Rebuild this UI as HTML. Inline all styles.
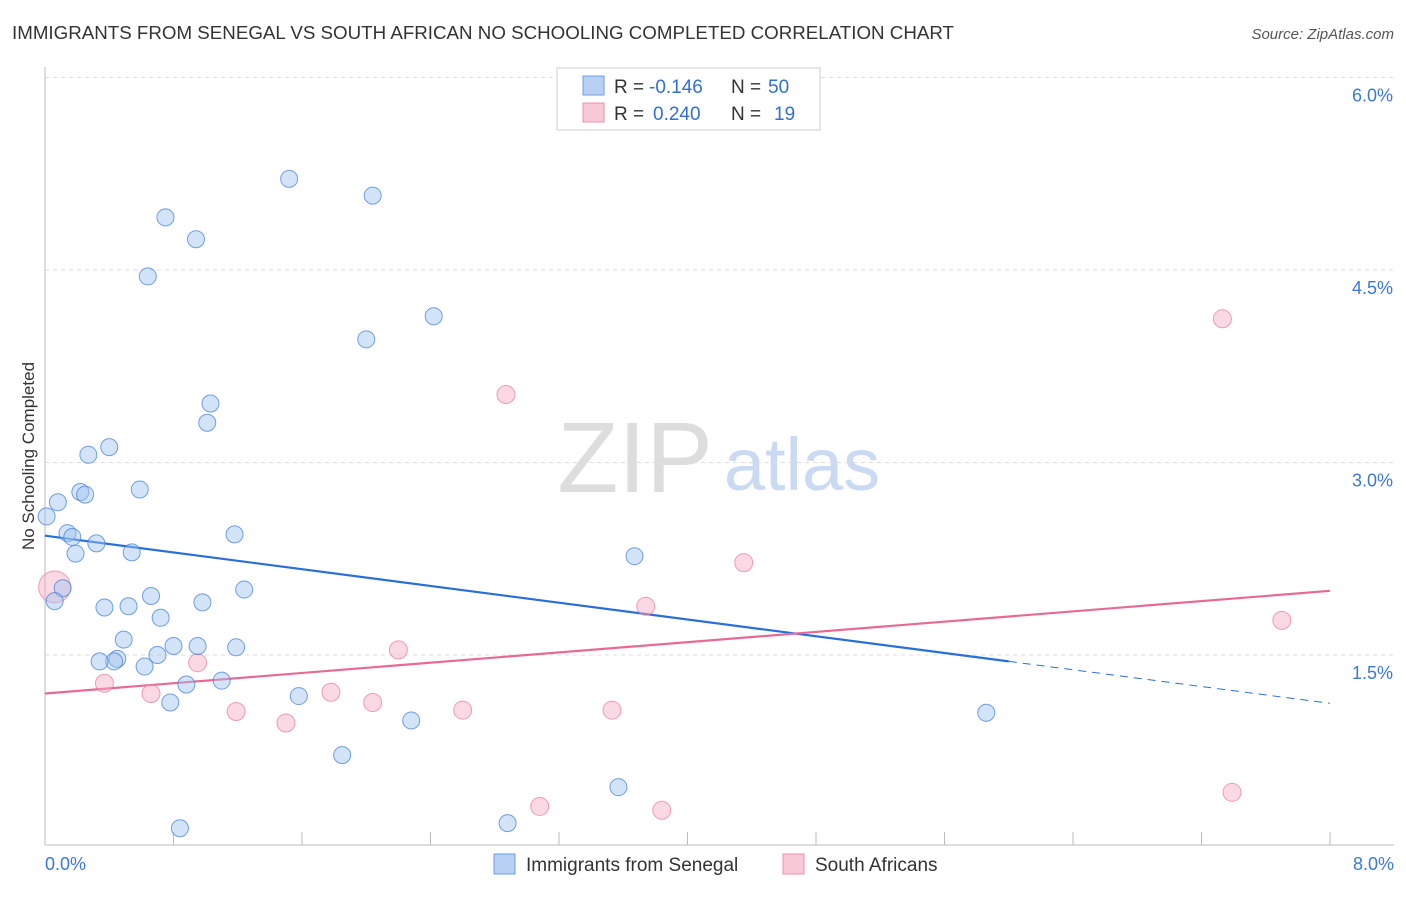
<!DOCTYPE html>
<html><head><meta charset="utf-8"><style>
body{margin:0;background:#fff;font-family:"Liberation Sans",sans-serif;}
svg text{font-family:"Liberation Sans",sans-serif;}
</style></head><body>
<svg id="chart" width="1406" height="892" xmlns="http://www.w3.org/2000/svg">
<text x="12" y="39" font-size="18" fill="#333" textLength="942" lengthAdjust="spacingAndGlyphs">IMMIGRANTS FROM SENEGAL VS SOUTH AFRICAN NO SCHOOLING COMPLETED CORRELATION CHART</text>
<text x="1394" y="39" font-size="15" fill="#555" text-anchor="end" font-style="italic">Source: ZipAtlas.com</text>
<text transform="translate(34,456) rotate(-90)" font-size="17" fill="#333" text-anchor="middle">No Schooling Completed</text>
<g>
<text x="635" y="492" font-size="100" fill="#ddd" text-anchor="middle" font-family="Liberation Serif,serif">ZIP</text>
<text x="802" y="490" font-size="74" fill="#c9daf2" text-anchor="middle">atlas</text>
</g>
<g id="grid"></g><g id="axes"></g><g id="trend"></g><g id="pts"></g>
<g>
<rect x="557" y="68" width="263" height="62" fill="#fff" stroke="#ccc"/>
<rect x="583" y="76" width="21" height="19" fill="#b8d0f4" stroke="#6d9ee8"/>
<rect x="583" y="103" width="21" height="19" fill="#f9c8d6" stroke="#ee90ac"/>
<text x="614" y="93" font-size="19" fill="#333">R =</text>
<text x="649" y="93" font-size="19" fill="#2f6fd6">-0.146</text>
<text x="731" y="93" font-size="19" fill="#333">N =</text>
<text x="768" y="93" font-size="19" fill="#2f6fd6">50</text>
<text x="614" y="120" font-size="19" fill="#333">R =</text>
<text x="653" y="120" font-size="19" fill="#2f6fd6">0.240</text>
<text x="731" y="120" font-size="19" fill="#333">N =</text>
<text x="774" y="120" font-size="19" fill="#2f6fd6">19</text>
</g>
<g>
<rect x="494" y="854" width="21" height="20" fill="#b8d0f4" stroke="#6d9ee8"/>
<text x="526" y="871" font-size="19" fill="#333">Immigrants from Senegal</text>
<rect x="783" y="854" width="21" height="20" fill="#f9c8d6" stroke="#ee90ac"/>
<text x="815" y="871" font-size="19" fill="#333">South Africans</text>
</g>
</svg>
<script>
const yTicks=[1.5,3.0,4.5,6.0];
const xTickVals=[0,0.8,1.6,2.4,3.2,4.0,4.8,5.6,6.4,7.2,8.0];
const xLabels=["0.0%","8.0%"];
const senegalX=[1.52,2.04,0.75,0.94,0.64,2.42,2.00,1.03,1.01,0.40,0.27,0.59,0.22,0.25,0.08,0.01,0.14,0.17,1.18,0.32,0.19,0.54,3.67,0.11,0.06,1.24,0.66,0.98,0.37,0.52,0.72,0.49,0.80,0.95,1.19,0.70,0.45,0.43,0.34,0.62,1.10,0.88,1.58,0.78,2.28,5.86,1.85,3.57,2.88,0.84];
const senegalY=[5.21,5.08,4.91,4.74,4.45,4.14,3.96,3.46,3.31,3.12,3.06,2.79,2.77,2.75,2.69,2.58,2.45,2.42,2.44,2.37,2.29,2.30,2.27,2.02,1.92,2.01,1.96,1.91,1.87,1.88,1.79,1.62,1.57,1.57,1.56,1.50,1.47,1.45,1.45,1.41,1.30,1.27,1.18,1.13,0.99,1.05,0.72,0.47,0.19,0.15];
const saX=[0.06,2.87,7.33,4.35,3.74,7.70,2.20,0.95,0.37,0.66,1.78,2.04,2.60,3.53,1.19,1.50,3.08,3.84,7.39];
const saY=[2.03,3.53,4.12,2.22,1.88,1.77,1.54,1.44,1.28,1.20,1.21,1.13,1.07,1.07,1.06,0.97,0.32,0.29,0.43];
const saR=[16,9,9,9,9,9,9,9,9,9,9,9,9,9,9,9,9,9,9];
const senegalTrend=[2.43,-0.1633]; // intercept, slope
const saTrend=[1.20,0.10];
const X=v=>45+v/8*1285, Y=v=>847.5-v*128.33;
const NS="http://www.w3.org/2000/svg";
function mk(t,a,p){const e=document.createElementNS(NS,t);for(const k in a)e.setAttribute(k,a[k]);document.getElementById(p).appendChild(e);return e;}
yTicks.forEach(t=>{
 const l=mk('line',{x1:45,x2:1394,y1:Y(t),y2:Y(t),stroke:'#ddd','stroke-dasharray':'4,4'},'grid');
 
 
 const tx=mk('text',{x:1393,y:Y(t)+24,'font-size':18,fill:'#3b78d8','text-anchor':'end'},'grid');
 tx.textContent=t.toFixed(1)+'%';
 
 
});
const ax=mk('line',{x1:45,x2:45,y1:67,y2:845,stroke:'#bbb'},'axes');


const bx=mk('line',{x1:45,x2:1394,y1:845,y2:845,stroke:'#bbb'},'axes');


xTickVals.forEach(t=>{const l=mk('line',{x1:X(t),x2:X(t),y1:832,y2:845,stroke:'#bbb'},'axes');
 
 });
[[0,xLabels[0],'start',45],[8,xLabels[1],'end',1394]].forEach(d=>{const tx=mk('text',{x:d[3],y:870,'font-size':18,fill:'#3b78d8','text-anchor':d[2]},'axes');tx.textContent=d[1];
 
 });
function tl(tr,x0,x1,col,dash){const l=mk('line',{x1:X(x0),y1:Y(tr[0]+tr[1]*x0),x2:X(x1),y2:Y(tr[0]+tr[1]*x1),stroke:col,'stroke-width':dash?1:2.2,'stroke-dasharray':dash?'8,6':'none'},'trend');
 
 }
tl(senegalTrend,0,6.0,'#2a6fd6');tl(senegalTrend,6.0,8,'#2a6fd6',true);tl(saTrend,0,8,'#e86a93');
saX.forEach((v,i)=>{const c=mk('circle',{cx:X(v),cy:Y(saY[i]),r:saR[i],fill:'rgba(246,170,195,0.45)',stroke:'rgba(232,120,155,0.7)','stroke-width':1},'pts');
 
 });
senegalX.forEach((v,i)=>{const c=mk('circle',{cx:X(v),cy:Y(senegalY[i]),r:8.5,fill:'rgba(160,195,240,0.45)',stroke:'rgba(70,130,220,0.75)','stroke-width':1},'pts');
 
 });
</script>
</body></html>
